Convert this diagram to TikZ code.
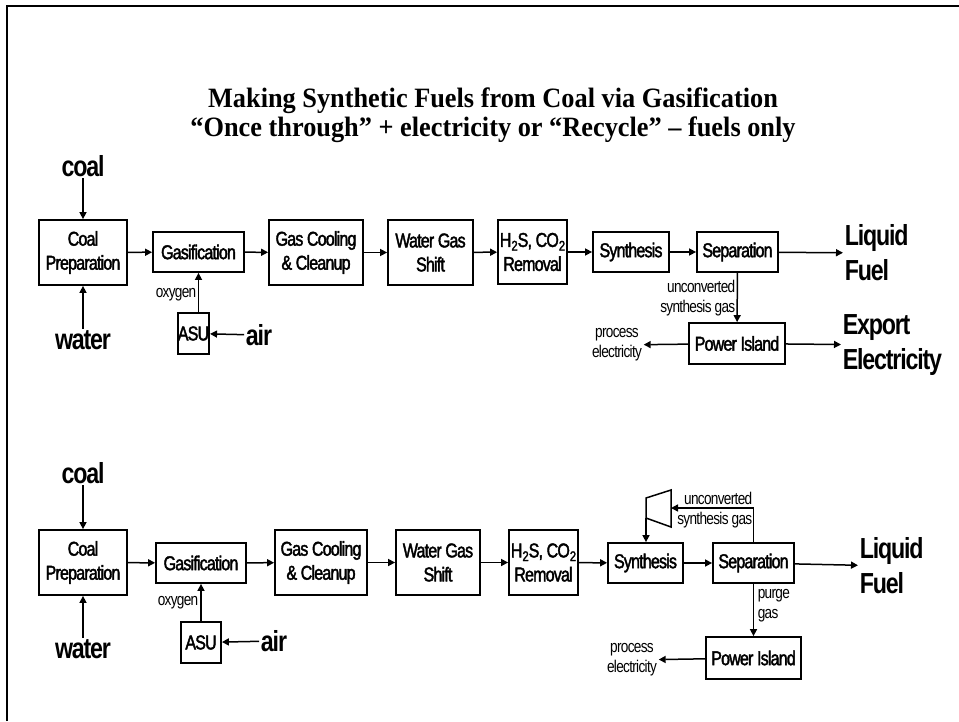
\documentclass[tikz,border=0pt]{standalone}
\usepackage{fontspec}
\setmainfont{Liberation Serif}
\newfontfamily\ttl[FakeStretch=0.94,Ligatures=TeX]{Liberation Serif}
\newfontfamily\arl[FakeStretch=0.8,LetterSpace=-4]{Liberation Sans}
\newfontfamily\arlu[FakeStretch=0.8,LetterSpace=-4,FakeBold=2]{Liberation Sans}
\usetikzlibrary{arrows.meta}
\newcommand{\dn}[1]{\raisebox{-0.35ex}{\scalebox{0.7}{#1}}}

\begin{document}
\begin{tikzpicture}[x=1pt, y=-1pt, line width=1.5pt, >={Triangle[length=7pt,width=7pt]},
    unit/.style={draw, line width=1.8pt, inner sep=0pt, align=center, font=\arlu\fontsize{20}{24}\selectfont},
    feed/.style={inner sep=1pt, align=left, font=\arl\bfseries\fontsize{29}{35}\selectfont},
    note/.style={inner sep=1pt, font=\arl\fontsize{17}{20}\selectfont}]
      \useasboundingbox (0,0) rectangle (959,721);
      \draw[line width=2pt] (7,721) -- (7,5.5) -- (959,5.5);
      \node[align=center, font=\ttl\bfseries\fontsize{28}{29}\selectfont] (title) at (493,115)
        {Making Synthetic Fuels from Coal via Gasification\\``Once through'' + electricity or ``Recycle'' -- fuels only};

      \node[unit, minimum width=88pt, minimum height=65pt] (cp1) at (83,252.5) {Coal\\Preparation};
      \node[unit, minimum width=91pt, minimum height=40pt] (gas1) at (198.5,252) {Gasification};
      \node[unit, minimum width=94pt, minimum height=65pt] (gcc1) at (316,252.5) {Gas Cooling\\\& Cleanup};
      \node[unit, minimum width=85pt, minimum height=65pt] (wgs1) at (430.5,252.5) {Water Gas\\Shift};
      \node[unit, minimum width=69pt, minimum height=64pt] (rem1) at (532.5,252) {H\dn{2}S, CO\dn{2}\\Removal};
      \node[unit, minimum width=76pt, minimum height=40pt] (syn1) at (631,252) {Synthesis};
      \node[unit, minimum width=81pt, minimum height=40pt] (sep1) at (737.5,252) {Separation};
      \node[unit, minimum width=31pt, minimum height=41pt] (asu1) at (193.5,333.5) {ASU};
      \node[unit, minimum width=96pt, minimum height=41pt] (pow1) at (737,343.5) {Power Island};
      \node[feed] (coal1) at (83,166) {coal};
      \node[feed] (water1) at (83,340) {water};
      \node[feed] (air1) at (259,335) {air};
      \node[feed, anchor=west] (lf1) at (843,253) {Liquid\\Fuel};
      \node[feed, anchor=west] (ee1) at (841,345) {Export\\Electricity};
      \node[note, anchor=east] (ox1) at (198,295) {oxygen};
      \node[note, align=right, anchor=east] (ucg1) at (737,298) {unconverted\\synthesis gas};
      \node[note, align=center] (pe1) at (617,345) {process\\electricity};
      \draw[->] (coal1) to[shorten <=6pt] (cp1);
      \draw[->] (water1) to[shorten <=6pt] (cp1);
      \draw[->] (cp1) to (gas1);
      \draw[->] (gas1) to (gcc1);
      \draw[->] (gcc1) to (wgs1);
      \draw[->] (wgs1) to (rem1);
      \draw[->] (rem1) to (syn1);
      \draw[->] (syn1) to (sep1);
      \draw[->] (sep1) to (lf1);
      \draw[->] (air1) to[shorten <=5pt] (asu1);
      \draw[->] (asu1.north -| gas1.south) to (gas1.south);
      \draw[->] (sep1) to (pow1);
      \draw[->] (pow1) to (ee1);
      \draw[->] (pow1) to (pe1);

      \node[unit, minimum width=88pt, minimum height=65pt] (cp2) at (83,562.5) {Coal\\Preparation};
      \node[unit, minimum width=90pt, minimum height=40pt] (gas2) at (201,563) {Gasification};
      \node[unit, minimum width=92pt, minimum height=65pt] (gcc2) at (321,562.5) {Gas Cooling\\\& Cleanup};
      \node[unit, minimum width=84pt, minimum height=65pt] (wgs2) at (438,562.5) {Water Gas\\Shift};
      \node[unit, minimum width=69pt, minimum height=65pt] (rem2) at (543.5,562.5) {H\dn{2}S, CO\dn{2}\\Removal};
      \node[unit, minimum width=75pt, minimum height=40pt] (syn2) at (645.5,563) {Synthesis};
      \node[unit, minimum width=81pt, minimum height=40pt] (sep2) at (753.5,563) {Separation};
      \node[unit, minimum width=40pt, minimum height=41pt] (asu2) at (201,642.5) {ASU};
      \node[unit, minimum width=95pt, minimum height=42pt] (pow2) at (753.5,658) {Power Island};
      \node[feed] (coal2) at (83,473) {coal};
      \node[feed] (water2) at (83,649) {water};
      \node[feed] (air2) at (274,641) {air};
      \node[feed, anchor=west] (lf2) at (858,566) {Liquid\\Fuel};
      \node[note, anchor=east] (ox2) at (200,603) {oxygen};
      \node[note, align=right, anchor=east] (ucg2) at (754,510.5) {unconverted\\synthesis gas};
      \node[note, align=left, anchor=west] (pg2) at (756,606) {purge\\gas};
      \node[note, align=center] (pe2) at (632,660) {process\\electricity};
      \coordinate (cmpA) at (646,498);
      \coordinate (cmpB) at (671,490);
      \coordinate (cmpC) at (671,527);
      \coordinate (cmpD) at (646,518);
      \coordinate (cmpR) at (671,508);
      \draw (cmpA) -- (cmpB) -- (cmpC) -- (cmpD) -- cycle;
      \draw[->] (coal2) to[shorten <=6pt] (cp2);
      \draw[->] (water2) to[shorten <=6pt] (cp2);
      \draw[->] (cp2) to (gas2);
      \draw[->] (gas2) to (gcc2);
      \draw[->] (gcc2) to (wgs2);
      \draw[->] (wgs2) to (rem2);
      \draw[->] (rem2) to (syn2);
      \draw[->] (syn2) to (sep2);
      \draw[->] (sep2) to (lf2);
      \draw[->] (air2) to[shorten <=5pt] (asu2);
      \draw[->] (asu2.north -| gas2.south) to (gas2.south);
      \draw[->] (sep2.north) |- (cmpR);
      \draw[->] (cmpD) to (syn2.north -| cmpD);
      \draw[->] (sep2) to (pow2);
      \draw[->] (pow2) to (pe2);
    \end{tikzpicture}
\end{document}
